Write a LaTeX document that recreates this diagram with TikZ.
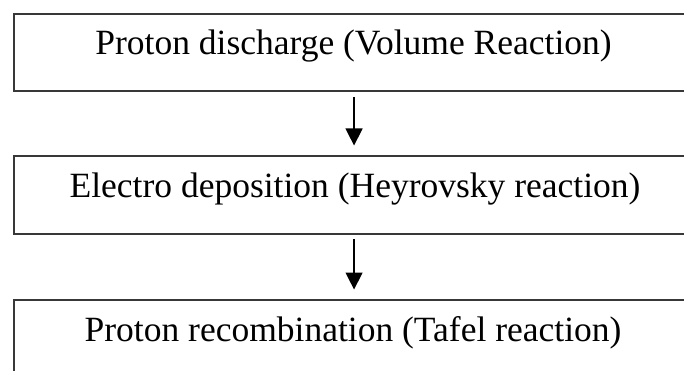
\documentclass[tikz,border=0pt]{standalone}
\usepackage{fontspec}
\setmainfont{Liberation Serif}
\usetikzlibrary{arrows.meta}
\begin{document}
\begin{tikzpicture}[x=1pt,y=1pt,
  stage/.style={draw=black!78, line width=2.1pt, minimum width=680pt,
    minimum height=77.5pt, inner sep=0pt, anchor=north west},
  caption/.style={font=\fontsize{35.5}{40}\selectfont, anchor=base, inner sep=0pt},
  flow/.style={-{Triangle[width=17pt,length=17pt]}, line width=1.3pt,
    shorten <=4.5pt, shorten >=9.5pt}]
\useasboundingbox (0,0) rectangle (684,-371);
\begin{scope}
  \clip (0,0) rectangle (684,-371);
  % reaction stages
  \node[stage] (s1) at (13,-12.7) {};
  \node[stage] (s2) at (13,-155) {};
  \node[stage] (s3) at (13,-299) {};
  \node[caption] (c1) at (353.5,-55) {Proton discharge (Volume Reaction)};
  \node[caption] (c2) at (355,-197) {Electro deposition (Heyrovsky reaction)};
  \node[caption] (c3) at (353,-341) {Proton recombination (Tafel reaction)};
  % sequence arrows
  \draw[flow] (s1.south) -- (s2.north);
  \draw[flow] (s2.south) -- (s3.north);
\end{scope}
\end{tikzpicture}
\end{document}
